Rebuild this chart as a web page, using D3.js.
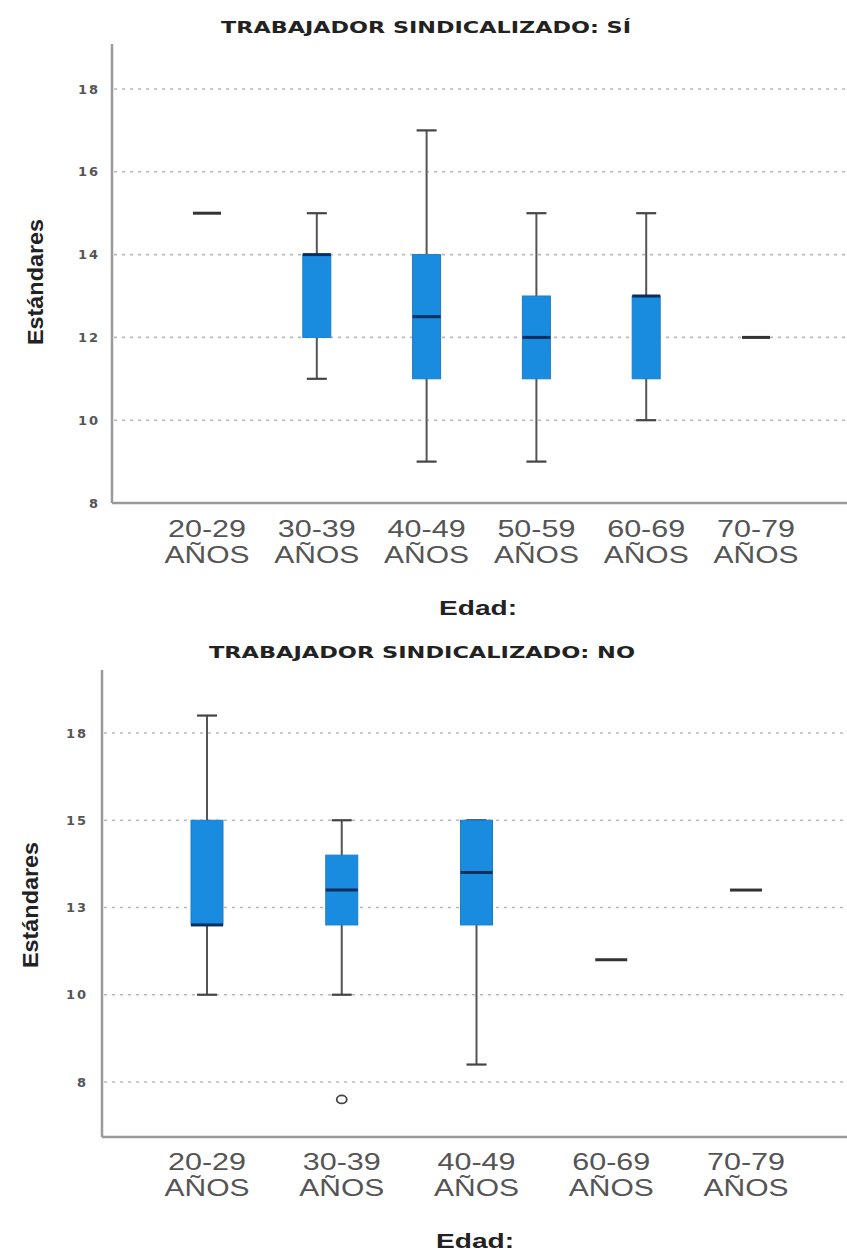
<!DOCTYPE html>
<html><head><meta charset="utf-8">
<script src="https://cdn.jsdelivr.net/npm/d3@7"></script>
<style>body{margin:0;background:#fff}</style>
</head><body>
<script>
// ---- data ----
const groupsSi = ["20-29 AÑOS","30-39 AÑOS","40-49 AÑOS","50-59 AÑOS","60-69 AÑOS","70-79 AÑOS"];
const siMin = [15, 11, 9, 9, 10, 12];
const siQ1  = [15, 12, 11, 11, 11, 12];
const siMed = [15, 14, 12.5, 12, 13, 12];
const siQ3  = [15, 14, 14, 13, 13, 12];
const siMax = [15, 15, 17, 15, 15, 12];
const siOutliers = [];
const siTicks = [8, 10, 12, 14, 16, 18];

const groupsNo = ["20-29 AÑOS","30-39 AÑOS","40-49 AÑOS","60-69 AÑOS","70-79 AÑOS"];
const noMin = [10, 10, 8, 11, 13];
const noQ1  = [12, 12, 12, 11, 13];
const noMed = [12, 13, 13.5, 11, 13];
const noQ3  = [15, 14, 15, 11, 13];
const noMax = [18, 15, 15, 11, 13];
const noOutliers = [{group: "30-39 AÑOS", value: 7}];
const noTicks = [7.5, 10, 12.5, 15, 17.5];

const titleSi = "TRABAJADOR SINDICALIZADO: SÍ";
const titleNo = "TRABAJADOR SINDICALIZADO: NO";
const xTitle = "Edad:";
const yTitle = "Estándares";

const W = 847, H = 1253;
const svg = d3.select("body").append("svg").attr("width", W).attr("height", H);

function panel(cfg) {
  const g = svg.append("g");
  const y = d3.scaleLinear().domain(cfg.yDomain).range([cfg.bottom, cfg.top]);
  const x = d3.scalePoint().domain(cfg.groups).range(cfg.xRange);

  // gridlines
  g.selectAll(".grid").data(cfg.gridVals).enter().append("line")
    .attr("x1", cfg.left + 2).attr("x2", W)
    .attr("y1", d => y(d)).attr("y2", d => y(d))
    .attr("stroke", "#b9b9b9").attr("stroke-width", 1.6)
    .attr("stroke-dasharray", "3,5");

  // y axis
  const yAxis = d3.axisLeft(y).tickValues(cfg.ticks).tickSize(0).tickPadding(cfg.tickPad)
    .tickFormat(d => String(Math.round(d)));
  const ya = g.append("g").attr("transform", `translate(${cfg.left},0)`).call(yAxis);
  ya.select(".domain").remove();
  ya.selectAll("text").attr("font-family", "DejaVu Sans, sans-serif")
    .attr("font-size", 13).attr("font-weight", "bold").attr("fill", "#555")
    .attr("letter-spacing", 2);

  // axis lines
  g.append("line").attr("x1", cfg.left).attr("x2", cfg.left)
    .attr("y1", cfg.top).attr("y2", cfg.bottom).attr("stroke", "#9a9a9a").attr("stroke-width", 2.5);
  g.append("line").attr("x1", cfg.left).attr("x2", W)
    .attr("y1", cfg.bottom).attr("y2", cfg.bottom).attr("stroke", "#9a9a9a").attr("stroke-width", 2.5);

  // x tick labels
  const xl = g.selectAll(".xl").data(cfg.groups).enter().append("g")
    .attr("transform", d => `translate(${x(d)},${cfg.labelY})`);
  xl.append("text").text(d => d.split(" ")[0])
    .attr("text-anchor", "middle").attr("font-family", "Liberation Sans, Arial, sans-serif")
    .attr("font-size", 24).attr("fill", "#555")
    .attr("textLength", 78).attr("lengthAdjust", "spacingAndGlyphs");
  xl.append("text").text(d => d.split(" ")[1]).attr("y", 26)
    .attr("text-anchor", "middle").attr("font-family", "Liberation Sans, Arial, sans-serif")
    .attr("font-size", 24).attr("fill", "#555")
    .attr("textLength", 85).attr("lengthAdjust", "spacingAndGlyphs");

  // boxes
  const rows = cfg.groups.map((gname, i) => ({
    g: gname, min: cfg.min[i], q1: cfg.q1[i], med: cfg.med[i], q3: cfg.q3[i], max: cfg.max[i]
  }));
  const bw = cfg.boxW, cw = cfg.capW;
  const b = g.selectAll(".box").data(rows).enter().append("g");
  const multi = d => d.max !== d.min;
  // whiskers
  b.filter(multi).append("line")
    .attr("x1", d => x(d.g)).attr("x2", d => x(d.g))
    .attr("y1", d => y(d.max)).attr("y2", d => y(d.min))
    .attr("stroke", "#555").attr("stroke-width", 2);
  b.filter(multi).append("line")
    .attr("x1", d => x(d.g) - cw / 2).attr("x2", d => x(d.g) + cw / 2)
    .attr("y1", d => y(d.max)).attr("y2", d => y(d.max))
    .attr("stroke", "#444").attr("stroke-width", 2.2);
  b.filter(multi).append("line")
    .attr("x1", d => x(d.g) - cw / 2).attr("x2", d => x(d.g) + cw / 2)
    .attr("y1", d => y(d.min)).attr("y2", d => y(d.min))
    .attr("stroke", "#444").attr("stroke-width", 2.2);
  // box
  b.filter(d => d.q3 !== d.q1).append("rect")
    .attr("x", d => x(d.g) - bw / 2).attr("width", bw)
    .attr("y", d => y(d.q3)).attr("height", d => y(d.q1) - y(d.q3))
    .attr("fill", "#1a8ce0").attr("stroke", "#1a7ccc").attr("stroke-width", 1);
  // median
  b.filter(d => d.q3 !== d.q1).append("line")
    .attr("x1", d => x(d.g) - bw / 2).attr("x2", d => x(d.g) + bw / 2)
    .attr("y1", d => y(d.med)).attr("y2", d => y(d.med))
    .attr("stroke", "#0a2f5c").attr("stroke-width", 3);
  // single-value
  b.filter(d => d.q3 === d.q1).append("line")
    .attr("x1", d => x(d.g) - bw / 2).attr("x2", d => x(d.g) + bw / 2)
    .attr("y1", d => y(d.med)).attr("y2", d => y(d.med))
    .attr("stroke", "#333").attr("stroke-width", 3);

  // outliers
  g.selectAll(".out").data(cfg.outliers).enter().append("ellipse")
    .attr("cx", d => x(d.group)).attr("cy", d => y(d.value))
    .attr("rx", 5).attr("ry", 4).attr("fill", "none").attr("stroke", "#444").attr("stroke-width", 1.8);

  // titles
  g.append("text").text(cfg.title).attr("x", cfg.titleX).attr("y", cfg.titleY)
    .attr("text-anchor", "middle").attr("font-family", "DejaVu Sans, Verdana, sans-serif")
    .attr("font-weight", "bold").attr("font-size", 15).attr("fill", "#222")
    .attr("textLength", cfg.titleLen).attr("lengthAdjust", "spacingAndGlyphs");
  g.append("text").text(xTitle).attr("x", cfg.xTitleX).attr("y", cfg.xTitleY)
    .attr("text-anchor", "middle").attr("font-family", "Liberation Sans, Arial, sans-serif")
    .attr("font-weight", "bold").attr("font-size", 21).attr("fill", "#222")
    .attr("textLength", 78).attr("lengthAdjust", "spacingAndGlyphs");
  g.append("text").text(yTitle)
    .attr("transform", `translate(${cfg.yTitleX},${cfg.yTitleY}) rotate(-90)`)
    .attr("text-anchor", "middle").attr("font-family", "Liberation Sans Narrow, Liberation Sans, Arial, sans-serif")
    .attr("font-weight", "bold").attr("font-size", 22).attr("fill", "#222")
    .attr("textLength", 126).attr("lengthAdjust", "spacingAndGlyphs");
}

// top scale: 18 -> 89, 8 -> 503
panel({
  groups: groupsSi, min: siMin, q1: siQ1, med: siMed, q3: siQ3, max: siMax, outliers: siOutliers,
  ticks: siTicks, gridVals: siTicks.filter(v => v > 8),
  yDomain: [8, 18 + (89 - 44) / 41.4], top: 44, bottom: 503, left: 112,
  xRange: [207, 756], labelY: 537, boxW: 28, capW: 20, tickPad: 12,
  title: titleSi, titleX: 426, titleY: 33, titleLen: 410,
  xTitleX: 478, xTitleY: 615, yTitleX: 43, yTitleY: 282
});

// bottom scale: 17.5 -> 733, 7.5 -> 1082
panel({
  groups: groupsNo, min: noMin, q1: noQ1, med: noMed, q3: noQ3, max: noMax, outliers: noOutliers,
  ticks: noTicks, gridVals: noTicks,
  yDomain: [7.5 - (1137 - 1082) / 34.9, 17.5 + (733 - 670) / 34.9], top: 670, bottom: 1137, left: 102,
  xRange: [207, 746], labelY: 1170, boxW: 32, capW: 20, tickPad: 14,
  title: titleNo, titleX: 422, titleY: 658, titleLen: 426,
  xTitleX: 475, xTitleY: 1248, yTitleX: 38, yTitleY: 905
});
</script>
</body></html>
